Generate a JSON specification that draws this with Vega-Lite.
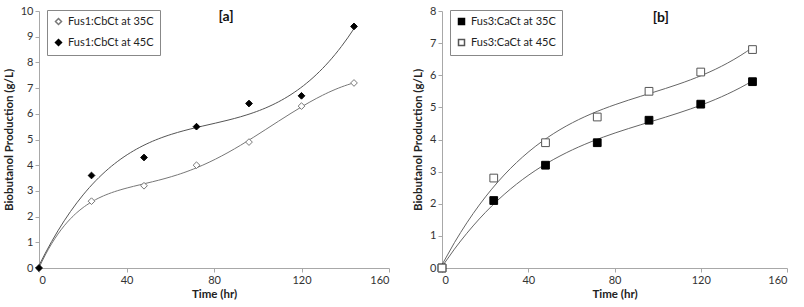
{
  "$schema": "https://vega.github.io/schema/vega-lite/v6.json",
  "padding": {"left": 3, "top": 5, "right": 0, "bottom": 0},
  "background": "white",
  "config": {
    "font": "Lato",
    "view": {"stroke": null},
    "axis": {
      "grid": false, "domainColor": "#a8a8a8", "tickColor": "#a8a8a8", "tickSize": 4,
      "labelColor": "#333", "labelFontSize": 11, "labelFont": "Lato",
      "titleFont": "Lato", "titleFontSize": 11.5, "titleFontWeight": "bold", "titleColor": "#222"
    },
    "legend": {
      "orient": "none", "legendX": 8, "legendY": -1, "strokeColor": "#888", "fillColor": "white", "padding": 6,
      "labelFont": "Lato", "labelFontSize": 11, "labelColor": "#222", "rowPadding": 8,
      "symbolSize": 36, "title": null
    }
  },
  "datasets": {
    "a": [
      {"t": 0, "v": 0, "s": "Fus1:CbCt at 35C"},
      {"t": 24, "v": 2.6, "s": "Fus1:CbCt at 35C"},
      {"t": 48, "v": 3.2, "s": "Fus1:CbCt at 35C"},
      {"t": 72, "v": 4.0, "s": "Fus1:CbCt at 35C"},
      {"t": 96, "v": 4.9, "s": "Fus1:CbCt at 35C"},
      {"t": 120, "v": 6.3, "s": "Fus1:CbCt at 35C"},
      {"t": 144, "v": 7.2, "s": "Fus1:CbCt at 35C"},
      {"t": 0, "v": 0, "s": "Fus1:CbCt at 45C"},
      {"t": 24, "v": 3.6, "s": "Fus1:CbCt at 45C"},
      {"t": 48, "v": 4.3, "s": "Fus1:CbCt at 45C"},
      {"t": 72, "v": 5.5, "s": "Fus1:CbCt at 45C"},
      {"t": 96, "v": 6.4, "s": "Fus1:CbCt at 45C"},
      {"t": 120, "v": 6.7, "s": "Fus1:CbCt at 45C"},
      {"t": 144, "v": 9.4, "s": "Fus1:CbCt at 45C"}
    ],
    "b": [
      {"t": 0, "v": 0, "s": "Fus3:CaCt at 35C"},
      {"t": 24, "v": 2.1, "s": "Fus3:CaCt at 35C"},
      {"t": 48, "v": 3.2, "s": "Fus3:CaCt at 35C"},
      {"t": 72, "v": 3.9, "s": "Fus3:CaCt at 35C"},
      {"t": 96, "v": 4.6, "s": "Fus3:CaCt at 35C"},
      {"t": 120, "v": 5.1, "s": "Fus3:CaCt at 35C"},
      {"t": 144, "v": 5.8, "s": "Fus3:CaCt at 35C"},
      {"t": 0, "v": 0, "s": "Fus3:CaCt at 45C"},
      {"t": 24, "v": 2.8, "s": "Fus3:CaCt at 45C"},
      {"t": 48, "v": 3.9, "s": "Fus3:CaCt at 45C"},
      {"t": 72, "v": 4.7, "s": "Fus3:CaCt at 45C"},
      {"t": 96, "v": 5.5, "s": "Fus3:CaCt at 45C"},
      {"t": 120, "v": 6.1, "s": "Fus3:CaCt at 45C"},
      {"t": 144, "v": 6.8, "s": "Fus3:CaCt at 45C"}
    ],
    "labels": [
      {"panel": "a", "t": 85.5, "v": 9.77, "text": "[a]"},
      {"panel": "b", "t": 101.5, "v": 7.78, "text": "[b]"}
    ]
  },
  "spacing": 22,
  "resolve": {"scale": {"shape": "independent", "fill": "independent", "stroke": "independent"}, "legend": {"shape": "independent", "fill": "independent", "stroke": "independent"}},
  "hconcat": [
    {
      "width": 350, "height": 257,
      "encoding": {
        "x": {"field": "t", "type": "quantitative", "title": "Time (hr)", "scale": {"domain": [0, 160]}, "axis": {"values": [0, 40, 80, 120, 160], "titlePadding": 3}},
        "y": {"field": "v", "type": "quantitative", "title": "Biobutanol Production (g/L)", "scale": {"domain": [0, 10]}, "axis": {"values": [0,1,2,3,4,5,6,7,8,9,10], "titlePadding": 6}}
      },
      "layer": [
        {
          "data": {"name": "a"},
          "transform": [{"filter": "datum.s == 'Fus1:CbCt at 35C'"}, {"regression": "v", "on": "t", "method": "poly", "order": 5, "extent": [0, 144]}],
          "mark": {"type": "line", "stroke": "#777", "strokeWidth": 1}
        },
        {
          "data": {"name": "a"},
          "transform": [{"filter": "datum.s == 'Fus1:CbCt at 45C'"}, {"regression": "v", "on": "t", "method": "poly", "order": 3, "extent": [0, 144]}],
          "mark": {"type": "line", "stroke": "#555", "strokeWidth": 1}
        },
        {
          "data": {"name": "a"},
          "mark": {"type": "point", "opacity": 1, "strokeWidth": 1, "size": 45},
          "encoding": {
            "shape": {"field": "s", "type": "nominal", "scale": {"range": ["diamond", "diamond"]}},
            "fill": {"field": "s", "type": "nominal", "scale": {"range": ["white", "black"]}},
            "stroke": {"field": "s", "type": "nominal", "scale": {"range": ["#777", "black"]}}
          }
        },
        {
          "data": {"name": "labels"},
          "transform": [{"filter": "datum.panel == 'a'"}],
          "mark": {"type": "text", "fontWeight": "bold", "fontSize": 14, "font": "Lato", "color": "#111"},
          "encoding": {"text": {"field": "text"}}
        }
      ]
    },
    {
      "width": 345, "height": 257,
      "encoding": {
        "x": {"field": "t", "type": "quantitative", "title": "Time (hr)", "scale": {"domain": [0, 160]}, "axis": {"values": [0, 40, 80, 120, 160], "titlePadding": 3}},
        "y": {"field": "v", "type": "quantitative", "title": "Biobutanol Production (g/L)", "scale": {"domain": [0, 8]}, "axis": {"values": [0,1,2,3,4,5,6,7,8], "titlePadding": 6}}
      },
      "layer": [
        {
          "data": {"name": "b"},
          "transform": [{"regression": "v", "on": "t", "groupby": ["s"], "method": "poly", "order": 3, "extent": [0, 144]}],
          "mark": {"type": "line", "stroke": "#666", "strokeWidth": 1},
          "encoding": {"detail": {"field": "s"}}
        },
        {
          "data": {"name": "b"},
          "mark": {"type": "point", "opacity": 1, "strokeWidth": 1, "size": 60},
          "encoding": {
            "shape": {"field": "s", "type": "nominal", "scale": {"range": ["square", "square"]}},
            "fill": {"field": "s", "type": "nominal", "scale": {"range": ["black", "white"]}},
            "stroke": {"field": "s", "type": "nominal", "scale": {"range": ["black", "#555"]}}
          }
        },
        {
          "data": {"name": "labels"},
          "transform": [{"filter": "datum.panel == 'b'"}],
          "mark": {"type": "text", "fontWeight": "bold", "fontSize": 14, "font": "Lato", "color": "#111"},
          "encoding": {"text": {"field": "text"}}
        }
      ]
    }
  ]
}
